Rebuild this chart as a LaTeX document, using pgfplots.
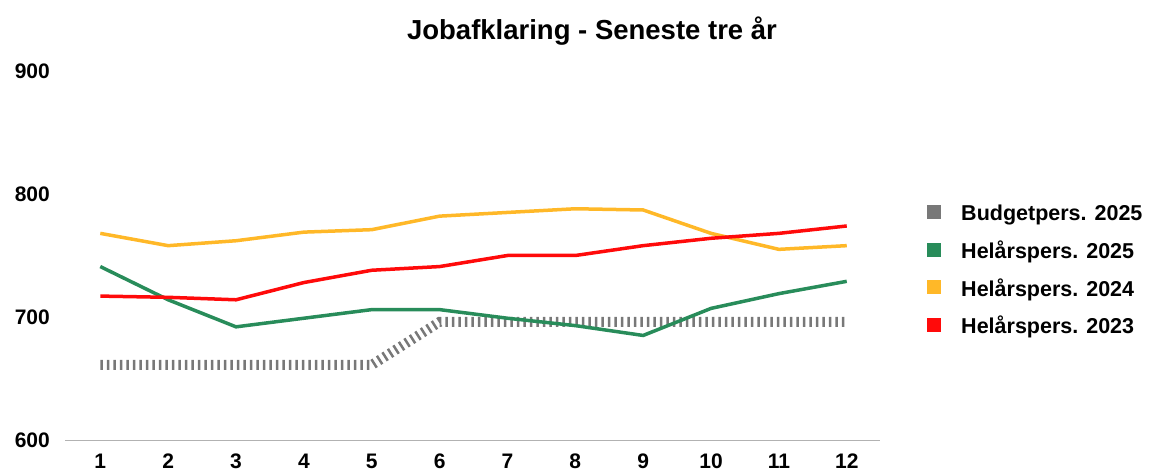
\documentclass[border=0pt]{standalone}
\usepackage{fontspec}
\setmainfont{Liberation Sans}
\usepackage{pgfplots}
\pgfplotsset{compat=1.18}
\definecolor{cgreen}{RGB}{40,140,90}
\definecolor{corange}{RGB}{255,184,40}
\definecolor{cred}{RGB}{255,10,10}
\definecolor{cgray}{RGB}{120,120,120}
\begin{document}
\begin{tikzpicture}[x=1pt,y=1pt]
\useasboundingbox (-65,-34) rectangle (1085,440);
\begin{axis}[
  at={(0,0)}, anchor=origin,
  scale only axis, width=815pt, height=369pt,
  xmin=0.48, xmax=12.49, ymin=600, ymax=900,
  xtick={1,...,12}, ytick=\empty,
  axis x line=bottom, axis y line=none,
  x axis line style={draw=black!30, line width=0.8pt, -},
  xtick style={draw=none},
  tick label style={font=\fontsize{21}{24}\selectfont\bfseries},
  /pgf/number format/assume math mode=true,
  xticklabel style={anchor=center, yshift=-19pt, inner sep=0pt},
  clip=false,
  legend style={at={(1.0577,0.638)}, anchor=north west, draw=none, fill=none,
    font=\fontsize{21.5}{24}\selectfont\bfseries, row sep=22pt,
    nodes={inner sep=0pt, text height=15.5pt, text depth=0pt},
    /tikz/every odd column/.append style={column sep=20pt},
    legend cell align=left},
  legend image code/.code={\fill[#1,draw=none,solid] (0pt,-6pt) rectangle (14pt,8pt);},
  every axis legend/.append style={inner sep=0pt},
]
\addplot[cgray, line width=10pt, dash pattern=on 2.5pt off 4pt, line join=miter] coordinates {
(1,661)(2,661)(3,661)(4,661)(5,661)(6,696)(7,696)(8,696)(9,696)(10,696)(11,696)(12,696)};
\addlegendentry{Budgetpers. 2025}
\addplot[cgreen, line width=3.5pt] coordinates {
(1,741)(2,714)(3,692)(4,699)(5,706)(6,706)(7,699)(8,693)(9,685)(10,707)(11,719)(12,729)};
\addlegendentry{Helårspers. 2025}
\addplot[corange, line width=3.5pt] coordinates {
(1,768)(2,758)(3,762)(4,769)(5,771)(6,782)(7,785)(8,788)(9,787)(10,768)(11,755)(12,758)};
\addlegendentry{Helårspers. 2024}
\addplot[cred, line width=3.5pt] coordinates {
(1,717)(2,716)(3,714)(4,728)(5,738)(6,741)(7,750)(8,750)(9,758)(10,764)(11,768)(12,774)};
\addlegendentry{Helårspers. 2023}
\end{axis}
\foreach \v/\yy in {600/0,700/123,800/246,900/369}{
  \node[anchor=east, font=\fontsize{21}{24}\selectfont\bfseries, inner sep=0pt] at (-15,\yy) {\v};
}
\node[font=\fontsize{27.5}{30}\selectfont\bfseries] at (527,409) {Jobafklaring - Seneste tre år};
\end{tikzpicture}
\end{document}
